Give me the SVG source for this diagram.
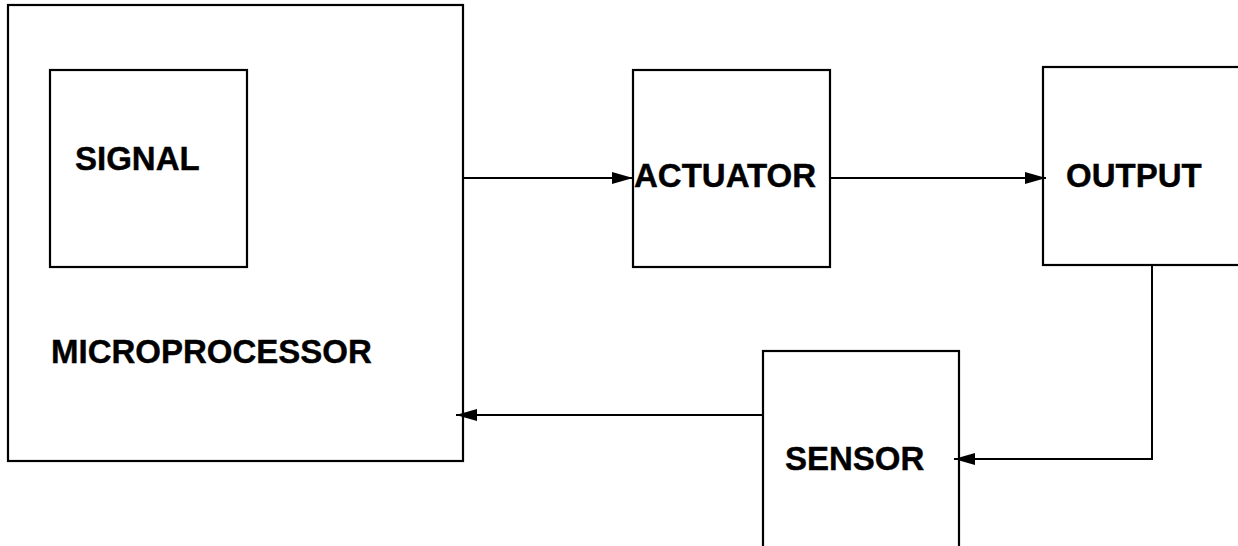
<svg xmlns="http://www.w3.org/2000/svg" width="1238" height="546" viewBox="0 0 1238 546">
<style>
.box{fill:none;stroke:#000;stroke-width:2.2}
.lbl{font-family:"Liberation Sans",Arial,sans-serif;font-weight:bold;font-size:33px;fill:#000;stroke:#000;stroke-width:0.4}
.conn{fill:none;stroke:#000;stroke-width:2}
</style>
<defs>
<marker id="ah" markerUnits="userSpaceOnUse" markerWidth="24" markerHeight="14" refX="21" refY="7" orient="auto">
<path d="M0,1 L21,7 L0,13 Z" fill="#000"/>
</marker>
</defs>
<rect width="1238" height="546" fill="#fff"/>
<g id="microprocessor">
<rect class="box" x="8" y="5" width="455" height="456"/>
<text class="lbl" x="51" y="363">MICROPROCESSOR</text>
</g>
<g id="signal">
<rect class="box" x="50" y="70" width="197" height="197"/>
<text class="lbl" x="75" y="170">SIGNAL</text>
</g>
<g id="actuator">
<rect class="box" x="633" y="70" width="197" height="197"/>
<text class="lbl" x="634" y="187">ACTUATOR</text>
</g>
<g id="output">
<rect class="box" x="1043" y="67" width="200" height="198"/>
<text class="lbl" x="1066" y="187">OUTPUT</text>
</g>
<g id="sensor">
<rect class="box" x="763" y="351" width="196" height="200"/>
<text class="lbl" x="785" y="470">SENSOR</text>
</g>
<g id="connectors">
<path class="conn" d="M462,178 L633,178" marker-end="url(#ah)"/>
<path class="conn" d="M830,178 L1046,178" marker-end="url(#ah)"/>
<path class="conn" d="M1152,265 L1152,459 L954,459" marker-end="url(#ah)"/>
<path class="conn" d="M763,415 L456,415" marker-end="url(#ah)"/>
</g>
</svg>
